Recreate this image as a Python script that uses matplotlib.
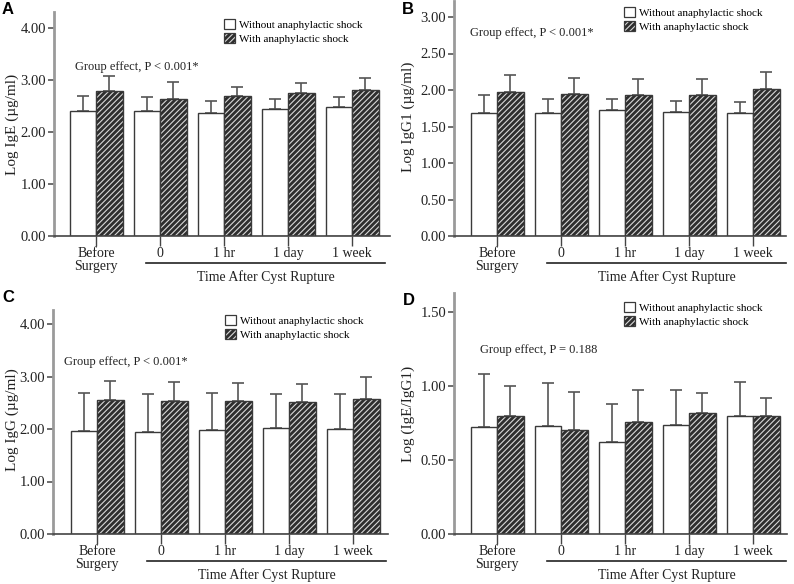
import matplotlib.pyplot as plt
from matplotlib.patches import Patch
import numpy as np

plt.rcParams['font.family'] = ['Liberation Serif', 'DejaVu Serif']
plt.rcParams['hatch.linewidth'] = 0.8

groups = ["Before\nSurgery", "0", "1 hr", "1 day", "1 week"]
legend_labels = ["Without anaphylactic shock", "With anaphylactic shock"]

# panel A: Log IgE
ige_without = [2.41, 2.41, 2.36, 2.44, 2.49]
ige_without_sd = [0.29, 0.27, 0.24, 0.20, 0.19]
ige_with = [2.78, 2.64, 2.69, 2.75, 2.81]
ige_with_sd = [0.29, 0.32, 0.18, 0.20, 0.22]

# panel B: Log IgG1
igg1_without = [1.68, 1.68, 1.73, 1.70, 1.69]
igg1_without_sd = [0.25, 0.19, 0.14, 0.15, 0.15]
igg1_with = [1.97, 1.94, 1.93, 1.93, 2.01]
igg1_with_sd = [0.23, 0.23, 0.22, 0.22, 0.24]

# panel C: Log IgG
igg_without = [1.97, 1.95, 1.99, 2.01, 2.00]
igg_without_sd = [0.71, 0.72, 0.70, 0.66, 0.67]
igg_with = [2.56, 2.53, 2.53, 2.51, 2.57]
igg_with_sd = [0.36, 0.36, 0.34, 0.35, 0.43]

# panel D: Log (IgE/IgG1)
ratio_without = [0.72, 0.73, 0.62, 0.735, 0.80]
ratio_without_sd = [0.36, 0.29, 0.26, 0.235, 0.23]
ratio_with = [0.80, 0.70, 0.755, 0.815, 0.80]
ratio_with_sd = [0.20, 0.26, 0.215, 0.14, 0.12]

W, H = 794, 584
fig = plt.figure(figsize=(W / 100, H / 100), dpi=100)


def fx(x):
    return x / W


def fy(y):
    return 1 - y / H


DARK = '#2e2e2e'
STRIPE = '#d8d8d8'
EDGE = '#3a3a3a'
ERR = '#555555'
HATCH = '//////'

panels = [
    dict(letter="A", left=54, right=390, zero=236, ppu=52, ymax=4.3, c0=96,
         ticks=[0, 1, 2, 3, 4], ylabel="Log IgE (\u00b5g/ml)",
         data=(ige_without, ige_without_sd, ige_with, ige_with_sd),
         ptext="Group effect, P < 0.001*", ppos=(75, 67), lpos=(224, 19),
         letpos=(8, 9), ylpos=(12, 124)),
    dict(letter="B", left=454, right=786, zero=236, ppu=73, ymax=3.22, c0=497,
         ticks=[0, 0.5, 1, 1.5, 2, 2.5, 3], ylabel="Log IgG1 (\u00b5g/ml)",
         data=(igg1_without, igg1_without_sd, igg1_with, igg1_with_sd),
         ptext="Group effect, P < 0.001*", ppos=(470, 33), lpos=(624, 7),
         letpos=(408, 10), ylpos=(408, 117)),
    dict(letter="C", left=53, right=388, zero=534, ppu=52.5, ymax=4.27, c0=97,
         ticks=[0, 1, 2, 3, 4], ylabel="Log IgG (\u00b5g/ml)",
         data=(igg_without, igg_without_sd, igg_with, igg_with_sd),
         ptext="Group effect, P < 0.001*", ppos=(64, 362), lpos=(225, 315),
         letpos=(8, 298), ylpos=(12, 420)),
    dict(letter="D", left=454, right=787, zero=534, ppu=148, ymax=1.63, c0=497,
         ticks=[0, 0.5, 1.0, 1.5], ylabel="Log (IgE/IgG1)",
         data=(ratio_without, ratio_without_sd, ratio_with, ratio_with_sd),
         ptext="Group effect, P = 0.188", ppos=(480, 350), lpos=(624, 302),
         letpos=(409, 300), ylpos=(408, 414)),
]

step = 64.0
bw = 26.5 / step
x = np.arange(len(groups))

for p in panels:
    top = p['zero'] - p['ymax'] * p['ppu']
    ax = fig.add_axes([fx(p['left']), fy(p['zero']), (p['right'] - p['left']) / W,
                       (p['zero'] - top) / H])
    ax.set_xlim((p['left'] - p['c0']) / step, (p['right'] - p['c0']) / step)
    ax.set_ylim(0, p['ymax'])
    m0, s0, m1, s1 = p['data']

    ax.bar(x - bw / 2, m0, bw, color='white', edgecolor=EDGE, linewidth=1.0, zorder=2)
    ax.bar(x + bw / 2, m1, bw, color=DARK, edgecolor=STRIPE, hatch=HATCH,
           linewidth=0, zorder=2)
    ax.bar(x + bw / 2, m1, bw, color='none', edgecolor=EDGE, linewidth=1.0, zorder=3)
    ax.errorbar(x - bw / 2, m0, yerr=[np.zeros(len(x)), s0], fmt='none',
                ecolor=ERR, elinewidth=1.2, capsize=4, capthick=1.2, zorder=1)
    ax.errorbar(x + bw / 2, m1, yerr=[np.zeros(len(x)), s1], fmt='none',
                ecolor=ERR, elinewidth=1.2, capsize=4, capthick=1.2, zorder=1)

    for s in ['top', 'right']:
        ax.spines[s].set_visible(False)
    ax.spines['left'].set_color('#9a9a9a')
    ax.spines['left'].set_linewidth(2.0)
    ax.spines['bottom'].set_color('#444444')
    ax.spines['bottom'].set_linewidth(1.2)

    ax.set_yticks(p['ticks'])
    ax.set_yticklabels(["%.2f" % t for t in p['ticks']], fontsize=10.5)
    ax.tick_params(axis='y', direction='out', length=4, width=1.2,
                   color='#555555', labelcolor='#222222', pad=1.5)
    ax.set_xticks(x)
    ax.set_xticklabels(groups, fontsize=10, linespacing=0.95)
    ax.tick_params(axis='x', direction='out', length=7, width=1.0,
                   color='#444444', labelcolor='#222222', pad=1)

    axh = p['zero'] - top
    ax.plot([0.78, 4.52], [-27 / axh] * 2, color='#222222', lw=1.2,
            transform=ax.get_xaxis_transform(), clip_on=False)
    ax.text(2.65, -41 / axh, "Time After Cyst Rupture", fontsize=10,
            ha='center', va='center', transform=ax.get_xaxis_transform(),
            color='#222222')

    fig.text(fx(p['ppos'][0]), fy(p['ppos'][1]), p['ptext'], fontsize=9,
             ha='left', va='center', color='#222222')
    fig.text(fx(p['ylpos'][0]), fy(p['ylpos'][1]), p['ylabel'], fontsize=11,
             rotation=90, ha='center', va='center', color='#222222')
    fig.text(fx(p['letpos'][0]), fy(p['letpos'][1]), p['letter'], fontsize=12,
             fontweight='bold', family='Liberation Sans', ha='center', va='center')

    h_white = Patch(facecolor='white', edgecolor=EDGE, linewidth=0.9)
    h_hatch = (Patch(facecolor=DARK, edgecolor=STRIPE, hatch=HATCH, linewidth=0),
               Patch(facecolor='none', edgecolor=EDGE, linewidth=0.9))
    fig.legend([h_white, h_hatch], legend_labels, loc='upper left',
               bbox_to_anchor=(fx(p['lpos'][0]), fy(p['lpos'][1])),
               frameon=False, fontsize=8, handlelength=0.95, handleheight=0.95,
               handletextpad=0.4, labelspacing=0.3, borderpad=0, borderaxespad=0)

fig.savefig("out.png", dpi=100)
